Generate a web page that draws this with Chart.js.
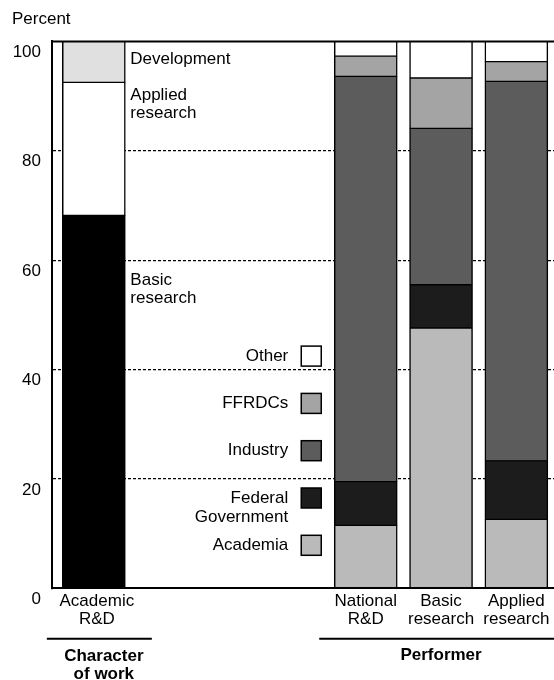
<!DOCTYPE html>
<html>
<head>
<meta charset="utf-8">
<script src="https://cdn.jsdelivr.net/npm/chart.js@4/dist/chart.umd.min.js"></script>
<style>
  html, body { margin: 0; padding: 0; background: #fff; }
</style>
</head>
<body>
<canvas id="rdChart" width="554" height="680"></canvas>
<script>
// --- Academic R&D by character of work (percent) ---
const characterNames = ['Basic research', 'Applied research', 'Development'];
const academicCharacter = [68.2, 24.3, 7.5];

// --- R&D by performer (percent) ---
const performerLabels = [['National', 'R&D'], ['Basic', 'research'], ['Applied', 'research']];
const performerNames = ['Academia', 'Federal Government', 'Industry', 'FFRDCs', 'Other'];
const academiaShare = [11.5, 47.6, 12.6];
const federalShare = [8.0, 7.9, 10.7];
const industryShare = [74.1, 28.6, 69.4];
const ffrdcShare = [3.7, 9.2, 3.6];
const otherShare = [2.7, 6.7, 3.7];

const yTickLabels = [0, 20, 40, 60, 80, 100];
const yGridLines = [20, 40, 60, 80];

// styles
const FONT = "'Liberation Sans', Arial, Helvetica, sans-serif";
const characterColors = ['#000000', '#ffffff', '#e0e0e0'];
const performerColors = ['#bababa', '#1c1c1c', '#5c5c5c', '#a4a4a4', '#ffffff'];
// where the in-plot character labels sit (y value of first line)
const characterLabelAt = [56.4, 90.1, 96.7];

// performer bars share a 20-slot axis, one bar every 3 slots
const SLOTS = 20, FIRST_SLOT = 12, SLOT_STEP = 3;
const slotLabels = Array(SLOTS).fill('');
performerLabels.forEach((l, i) => { slotLabels[FIRST_SLOT + i * SLOT_STEP] = l; });

function toSlots(values) {
    const out = Array(SLOTS).fill(null);
    values.forEach((v, i) => { out[FIRST_SLOT + i * SLOT_STEP] = v; });
    return out;
}

const barStyle = {
    grouped: false,
    borderColor: '#000',
    borderWidth: { top: 1, bottom: 1, left: 1.5, right: 1.5 },
    borderSkipped: false,
    barThickness: 63
};

const datasets = [];
characterNames.forEach((name, i) => {
    datasets.push(Object.assign({
        label: name,
        xAxisID: 'xa',
        data: [academicCharacter[i]],
        backgroundColor: characterColors[i]
    }, barStyle));
});
[academiaShare, federalShare, industryShare, ffrdcShare, otherShare].forEach((vals, i) => {
    datasets.push(Object.assign({
        label: performerNames[i],
        xAxisID: 'x',
        data: toSlots(vals),
        backgroundColor: performerColors[i]
    }, barStyle));
});

function multiline(ctx, lines, x, y, step) {
    lines.forEach((t, i) => ctx.fillText(t, x, y + i * step));
}

const annotations = {
    id: 'annotations',
    afterDraw(chart) {
        const { ctx, chartArea } = chart;
        const x = chart.scales.x, xa = chart.scales.xa, y = chart.scales.y;
        const half = barStyle.barThickness / 2;
        const acadX = xa.getPixelForValue(0);
        ctx.save();

        // top frame line
        ctx.strokeStyle = '#000';
        ctx.lineWidth = 2;
        ctx.beginPath();
        ctx.moveTo(chartArea.left, chartArea.top);
        ctx.lineTo(chartArea.right, chartArea.top);
        ctx.stroke();

        ctx.fillStyle = '#000';
        ctx.font = '17px ' + FONT;
        ctx.textBaseline = 'middle';

        // character of work labels next to the academic bar
        ctx.textAlign = 'left';
        const charText = [['Basic', 'research'], ['Applied', 'research'], ['Development']];
        charText.forEach((lines, i) => {
            multiline(ctx, lines, acadX + half + 5, y.getPixelForValue(characterLabelAt[i]), 18);
        });

        // performer legend, top to bottom: Other ... Academia
        const boxRight = x.getPixelForValue(FIRST_SLOT) - half - 13;
        const legendText = [['Academia'], ['Federal', 'Government'], ['Industry'], ['FFRDCs'], ['Other']];
        legendText.forEach((lines, i) => {
            const cy = chartArea.bottom - 43 - i * 47.3;
            ctx.fillStyle = performerColors[i];
            ctx.fillRect(boxRight - 20, cy - 10, 20, 20);
            ctx.strokeStyle = '#000';
            ctx.lineWidth = 1.5;
            ctx.strokeRect(boxRight - 20, cy - 10, 20, 20);
            ctx.fillStyle = '#000';
            ctx.textAlign = 'right';
            multiline(ctx, lines, boxRight - 33, cy, 19);
        });

        // academic bar category label
        ctx.textAlign = 'center';
        multiline(ctx, ['Academic', 'R&D'], acadX + 3, x.top + 13, 17.8);

        // group rules and titles
        const ruleY = x.top + 50.5;
        ctx.lineWidth = 2;
        ctx.beginPath();
        ctx.moveTo(acadX - 47, ruleY);
        ctx.lineTo(acadX + 58, ruleY);
        ctx.moveTo(x.getPixelForValue(FIRST_SLOT) - half - 15, ruleY);
        ctx.lineTo(chartArea.right, ruleY);
        ctx.stroke();

        ctx.font = 'bold 17px ' + FONT;
        multiline(ctx, ['Character', 'of work'], acadX + 10, ruleY + 18, 17.5);
        ctx.fillText('Performer', x.getPixelForValue(FIRST_SLOT + SLOT_STEP), ruleY + 17);
        ctx.restore();
    }
};

new Chart(document.getElementById('rdChart'), {
    type: 'bar',
    data: { labels: slotLabels, datasets: datasets },
    plugins: [annotations],
    options: {
        responsive: false,
        animation: false,
        layout: { padding: { left: 12, right: 0, top: 0, bottom: 48 } },
        plugins: {
            legend: { display: false },
            tooltip: { enabled: false },
            title: {
                display: true,
                text: 'Percent',
                align: 'start',
                color: '#000',
                font: { family: FONT, size: 17, weight: 'normal' },
                padding: { top: 9, bottom: 12 }
            }
        },
        scales: {
            x: {
                type: 'category',
                labels: slotLabels,
                stacked: true,
                offset: true,
                grid: { display: false, drawTicks: false },
                border: { display: true, color: '#000', width: 2 },
                ticks: {
                    autoSkip: false,
                    maxRotation: 0,
                    minRotation: 0,
                    padding: 4,
                    color: '#000',
                    font: { family: FONT, size: 17, lineHeight: 1.05 }
                }
            },
            xa: {
                type: 'category',
                labels: ['Academic R&D', '', '', '', '', ''],
                stacked: true,
                offset: true,
                display: false
            },
            y: {
                stacked: true,
                min: 0,
                max: 100,
                afterFit: (scale) => { scale.width = 40; },
                ticks: {
                    stepSize: 10,
                    padding: 11,
                    labelOffset: 11,
                    color: '#000',
                    font: { family: FONT, size: 17 },
                    callback: (v) => yTickLabels.includes(v) ? v : ''
                },
                grid: {
                    drawTicks: false,
                    lineWidth: 1.3,
                    color: (c) => c.tick && yGridLines.includes(c.tick.value) ? '#000' : 'rgba(0,0,0,0)'
                },
                border: { display: true, color: '#000', width: 2, dash: [3, 2] }
            }
        }
    }
});
</script>
</body>
</html>
